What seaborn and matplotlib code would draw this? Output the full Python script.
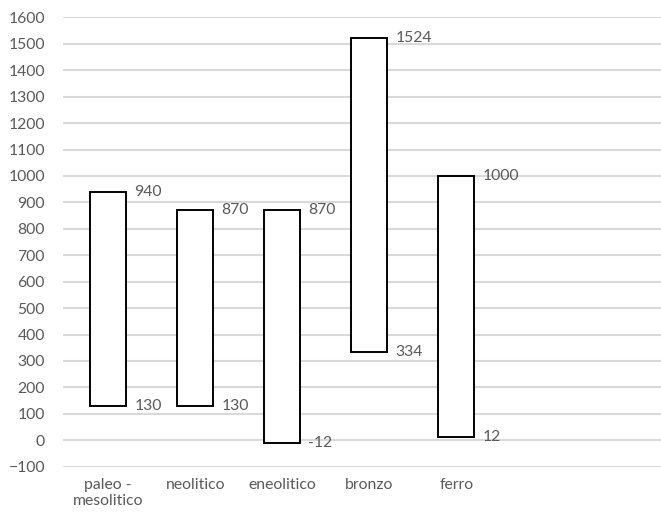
import matplotlib
matplotlib.use("Agg")
import matplotlib.pyplot as plt
import seaborn as sns
import pandas as pd

categories = ["paleo -\nmesolitico", "neolitico", "eneolitico", "bronzo", "ferro"]
lows = [130, 130, -12, 334, 12]
highs = [940, 870, 870, 1524, 1000]

df = pd.DataFrame({"periodo": categories,
                   "span": [h - l for h, l in zip(highs, lows)]})

sns.set_style("white")
plt.rcParams['font.family'] = ['Lato', 'DejaVu Sans']
text_color = "#595959"

fig = plt.figure(figsize=(6.61, 5.17), dpi=100)
ax = fig.add_axes([0.0953, 0.0973, 0.92, 0.869])

sns.barplot(data=df, x="periodo", y="span", order=categories, bottom=lows,
            color="white", edgecolor="black", linewidth=1.4, width=0.41,
            ax=ax, zorder=3)

ax.set_ylim(-100, 1600)
ax.set_yticks(range(-100, 1601, 100))
ax.set_xlim(-0.52, 6.47)
ax.grid(axis="y", color="#d9d9d9", linewidth=1.5, zorder=0)
ax.set_axisbelow(True)
for s in ax.spines.values():
    s.set_visible(False)
ax.tick_params(axis="both", length=0, labelsize=11.3, colors=text_color)
ax.tick_params(axis="y", pad=13)
ax.tick_params(axis="x", pad=8)
ax.set_xlabel("")
ax.set_ylabel("")

for i, (lo, hi) in enumerate(zip(lows, highs)):
    ax.annotate(str(hi), (i + 0.205, hi), xytext=(6, 0), textcoords="offset points",
                va="center", ha="left", fontsize=11.3, color=text_color)
    ax.annotate(str(lo), (i + 0.205, lo), xytext=(6, 0), textcoords="offset points",
                va="center", ha="left", fontsize=11.3, color=text_color)

fig.savefig("out.png", dpi=100)
